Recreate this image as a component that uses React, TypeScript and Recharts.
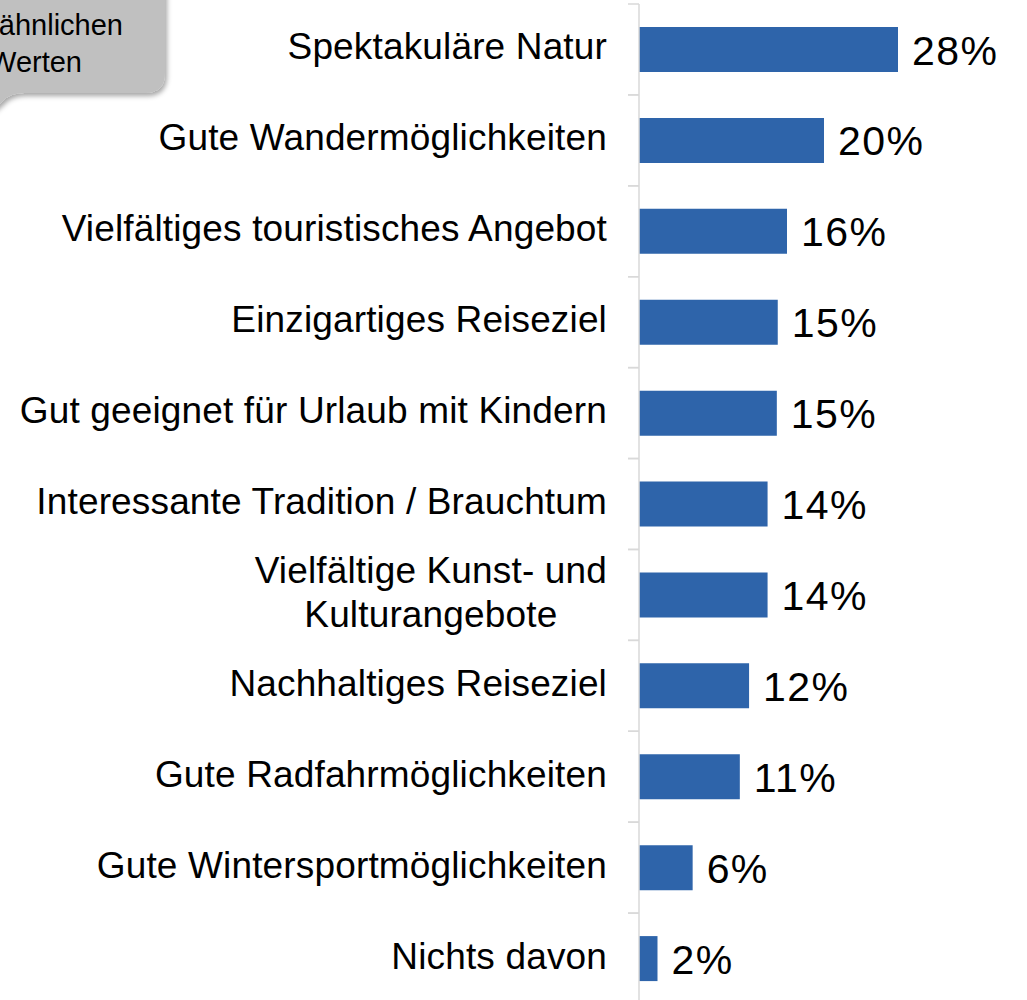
import React from "react";
import { BarChart, Bar, XAxis, YAxis, LabelList } from "recharts";

const categories = [
  "Spektakuläre Natur",
  "Gute Wandermöglichkeiten",
  "Vielfältiges touristisches Angebot",
  "Einzigartiges Reiseziel",
  "Gut geeignet für Urlaub mit Kindern",
  "Interessante Tradition / Brauchtum",
  "Vielfältige Kunst- und\nKulturangebote",
  "Nachhaltiges Reiseziel",
  "Gute Radfahrmöglichkeiten",
  "Gute Wintersportmöglichkeiten",
  "Nichts davon",
];
const shares = [28, 20, 16, 15, 14.9, 13.9, 13.9, 11.9, 10.9, 5.8, 2];
const calloutLines = ["ähnlichen", "Werten"];

const FONT = '"Liberation Sans", Arial, sans-serif';
const W = 1027;
const H = 1010;
const MARGIN = { top: 4, right: 18, bottom: 6, left: 0 };
const AXIS_W = 639;
const BAND = (H - MARGIN.top - MARGIN.bottom) / categories.length;
const BLUE = "#2e64aa";
const GRID = "#d9d9d9";
const CAT_SIZE = 37;
const CAT_SPACING = 0.15;

const data = categories.map((name, i) => ({ name, share: shares[i] }));

let ctx: CanvasRenderingContext2D | null = null;
function measure(text: string, size: number) {
  if (!ctx) ctx = document.createElement("canvas").getContext("2d");
  if (!ctx) return text.length * size * 0.5;
  ctx.font = `${size}px "Liberation Sans"`;
  return ctx.measureText(text).width + text.length * CAT_SPACING;
}

function CategoryTick(props: any) {
  const { x, y, payload } = props;
  const lines = String(payload.value).split("\n");
  const gap = 44;
  const maxW = Math.max(...lines.map((l) => measure(l, CAT_SIZE)));
  const axisX = x + 32;
  const common = { fontSize: CAT_SIZE, fontFamily: FONT, fill: "#000", letterSpacing: CAT_SPACING };
  return (
    <g>
      <line x1={axisX - 11} x2={axisX} y1={y - BAND / 2} y2={y - BAND / 2} stroke={GRID} strokeWidth={1.5} />
      <line x1={axisX - 11} x2={axisX} y1={y + BAND / 2} y2={y + BAND / 2} stroke={GRID} strokeWidth={1.5} />
      {lines.length === 1 ? (
        <text x={x} y={y + 10} textAnchor="end" {...common}>
          {lines[0]}
        </text>
      ) : (
        lines.map((l, i) => (
          <text
            key={i}
            x={x - maxW / 2}
            y={y + 10 + (i - (lines.length - 1) / 2) * gap}
            textAnchor="middle"
            {...common}
          >
            {l}
          </text>
        ))
      )}
    </g>
  );
}

function ValueLabel(props: any) {
  const { x, y, width, height, value } = props;
  return (
    <text
      x={x + width + 14}
      y={y + height / 2 + 15}
      fontSize={41}
      letterSpacing={1.4}
      fontFamily={FONT}
      fill="#000"
    >
      {Math.round(value)}%
    </text>
  );
}

function Callout() {
  return (
    <svg width={220} height={140} style={{ position: "absolute", left: 0, top: 0, overflow: "visible" }}>
      <defs>
        <filter id="sh" x="-20%" y="-20%" width="150%" height="150%">
          <feDropShadow dx={2} dy={3} stdDeviation={2.5} floodColor="#000" floodOpacity={0.35} />
        </filter>
      </defs>
      <path
        d="M -30 -30 H 165 V 73 Q 165 93 145 93 H 24 Q 10 93 3 101 L -30 130 Z"
        fill="#c0c0c0"
        filter="url(#sh)"
      />
      <text x={123} y={35} textAnchor="end" fontSize={29} fontFamily={FONT} fill="#000">
        {calloutLines[0]}
      </text>
      <text x={82} y={72} textAnchor="end" fontSize={29} fontFamily={FONT} fill="#000">
        {calloutLines[1]}
      </text>
    </svg>
  );
}

export default function App() {
  return (
    <div style={{ position: "absolute", left: 0, top: 0, width: W, height: 1000, overflow: "hidden", background: "#fff" }}>
      <BarChart width={W} height={H} data={data} layout="vertical" margin={MARGIN}>
        <XAxis type="number" domain={[0, 40]} hide />
        <YAxis
          type="category"
          dataKey="name"
          width={AXIS_W}
          axisLine={{ stroke: GRID, strokeWidth: 1.5 }}
          tickLine={false}
          tickSize={11}
          tickMargin={21}
          interval={0}
          tick={<CategoryTick />}
        />
        <Bar dataKey="share" fill={BLUE} barSize={45} isAnimationActive={false}>
          <LabelList dataKey="share" content={<ValueLabel />} />
        </Bar>
      </BarChart>
      <Callout />
    </div>
  );
}
